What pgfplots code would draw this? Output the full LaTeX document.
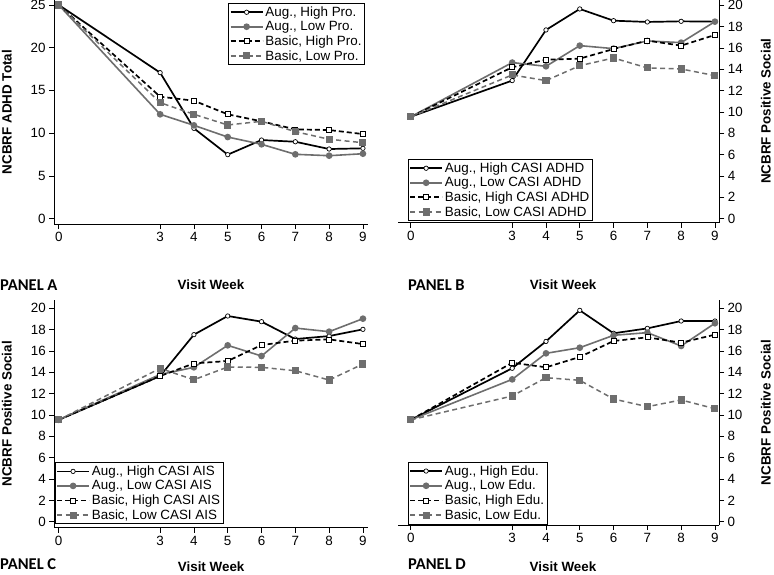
\documentclass[border=0pt]{standalone}
\usepackage{pgfplots}
\pgfplotsset{compat=1.18}
\usepackage{fontspec}
\setmainfont{Liberation Sans}
\newfontfamily\panelfont{Carlito}[Scale=1.0]
\definecolor{grayline}{RGB}{110,110,110}
\newcommand{\lblfont}{\fontsize{13.4}{14}\selectfont\bfseries}
\newcommand{\pnlfont}{\panelfont\fontsize{16.5}{18}\selectfont\bfseries}

\pgfplotsset{
 stata/.style={
  scale only axis, clip=false,
  axis line style={black, line width=0.8pt, -},
  every outer x axis line/.append style={-},
  every outer y axis line/.append style={-},
  every inner x axis line/.append style={-},
  every inner y axis line/.append style={-},
  tick style={black, line width=0.8pt},
  tick align=outside, major tick length=5pt,
  xtick={0,3,4,5,6,7,8,9},
  tick label style={font=\fontsize{13.4}{14}\selectfont},
  /pgf/number format/assume math mode=true,
  legend style={font=\fontsize{13.4}{15}\selectfont, draw=black, line width=0.6pt, fill=white, inner sep=1pt, row sep=-0.5pt, cells={anchor=west}},
  legend cell align=left,
  legend image code/.code={\draw[mark repeat=2,mark phase=2,##1] plot coordinates {(0pt,0pt) (16pt,0pt) (32pt,0pt)};},
 },
 ah/.style={black, solid, line width=1.7pt, mark=*, mark size=2.2pt, mark options={solid, fill=white, line width=0.7pt}},
 al/.style={grayline, solid, line width=1.6pt, mark=*, mark size=2.5pt, mark options={solid, fill=grayline}},
 bh/.style={black, line width=1.7pt, dash pattern=on 5pt off 3pt, mark=square*, mark size=2.5pt, mark options={solid, fill=white, line width=0.7pt}},
 bl/.style={grayline, line width=1.5pt, dash pattern=on 5pt off 3.5pt, mark=square*, mark size=2.8pt, mark options={solid, fill=grayline}},
}

\begin{document}
\begin{tikzpicture}[x=1pt,y=1pt]
\useasboundingbox (0,0) rectangle (774,574);

% PANEL A
\begin{axis}[stata, at={(54pt,350pt)}, anchor=south west, width=314pt, height=224pt,
  xmin=-0.14, xmax=9.15, ymin=-0.62, ymax=25.58,
  axis x line*=bottom, axis y line*=left, ytick={0,5,...,25},
  xlabel={Visit Week}, ylabel={NCBRF ADHD Total},
  every axis x label/.style={at={(axis description cs:0.5,-0.272)},anchor=center,font=\lblfont},
  every axis y label/.style={at={(axis description cs:-0.15,0.5)},rotate=90,anchor=center,font=\lblfont},
  legend style={at={(axis description cs:0.99,0.985)},anchor=north east}]
\addplot[ah] coordinates {(0,25)(3,17.08)(4,10.57)(5,7.49)(6,9.2)(7,9.0)(8,8.15)(9,8.23)};
\addplot[al] coordinates {(0,25)(3,12.21)(4,10.92)(5,9.55)(6,8.7)(7,7.53)(8,7.37)(9,7.6)};
\addplot[bh] coordinates {(0,25)(3,14.27)(4,13.8)(5,12.21)(6,11.39)(7,10.45)(8,10.37)(9,9.9)};
\addplot[bl] coordinates {(0,25)(3,13.57)(4,12.21)(5,10.96)(6,11.39)(7,10.18)(8,9.29)(9,8.89)};
\legend{{Aug., High Pro.},{Aug., Low Pro.},{Basic, High Pro.},{Basic, Low Pro.}}
\end{axis}

% PANEL B
\begin{axis}[stata, at={(398pt,351.3pt)}, anchor=south west, width=321.3pt, height=222.7pt,
  xmin=-0.38, xmax=9.13, ymin=-0.39, ymax=20.5,
  axis x line*=bottom, axis y line*=right, ytick={0,2,...,20},
  xlabel={Visit Week}, ylabel={NCBRF Positive Social},
  every axis x label/.style={at={(axis description cs:0.514,-0.28)},anchor=center,font=\lblfont},
  every axis y label/.style={at={(axis description cs:1.145,0.5)},rotate=90,anchor=center,font=\lblfont},
  legend style={at={(axis description cs:0.031,0.008)},anchor=south west}]
\addplot[ah] coordinates {(0,9.55)(3,12.94)(4,17.69)(5,19.66)(6,18.56)(7,18.44)(8,18.5)(9,18.47)};
\addplot[al] coordinates {(0,9.55)(3,14.63)(4,14.28)(5,16.22)(6,15.94)(7,16.66)(8,16.5)(9,18.47)};
\addplot[bh] coordinates {(0,9.55)(3,14.19)(4,14.9)(5,15.0)(6,15.9)(7,16.69)(8,16.22)(9,17.22)};
\addplot[bl] coordinates {(0,9.55)(3,13.47)(4,12.94)(5,14.34)(6,15.06)(7,14.13)(8,14.03)(9,13.41)};
\legend{{Aug., High CASI ADHD},{Aug., Low CASI ADHD},{Basic, High CASI ADHD},{Basic, Low CASI ADHD}}
\end{axis}

% PANEL C
\begin{axis}[stata, at={(54.3pt,46.3pt)}, anchor=south west, width=313.7pt, height=227.7pt,
  xmin=-0.13, xmax=9.15, ymin=-0.56, ymax=20.78,
  axis x line*=bottom, axis y line*=left, ytick={0,2,...,20},
  xlabel={Visit Week}, ylabel={NCBRF Positive Social},
  every axis x label/.style={at={(axis description cs:0.5,-0.172)},anchor=center,font=\lblfont},
  every axis y label/.style={at={(axis description cs:-0.151,0.5)},rotate=90,anchor=center,font=\lblfont},
  legend style={at={(axis description cs:0.002,0.016)},anchor=south west}]
\addplot[ah] coordinates {(0,9.55)(3,13.65)(4,17.53)(5,19.28)(6,18.75)(7,17.12)(8,17.4)(9,18.03)};
\addplot[al] coordinates {(0,9.55)(3,13.8)(4,14.47)(5,16.53)(6,15.53)(7,18.15)(8,17.81)(9,19.03)};
\addplot[bh] coordinates {(0,9.55)(3,13.65)(4,14.84)(5,15.06)(6,16.56)(7,16.97)(8,17.09)(9,16.65)};
\addplot[bl] coordinates {(0,9.55)(3,14.37)(4,13.31)(5,14.5)(6,14.47)(7,14.15)(8,13.28)(9,14.78)};
\legend{{Aug., High CASI AIS},{Aug., Low CASI AIS},{Basic, High CASI AIS},{Basic, Low CASI AIS}}
\end{axis}

% PANEL D
\begin{axis}[stata, at={(398pt,49pt)}, anchor=south west, width=321pt, height=225pt,
  xmin=-0.38, xmax=9.12, ymin=-0.31, ymax=20.78,
  axis x line*=bottom, axis y line*=right, ytick={0,2,...,20},
  xlabel={Visit Week}, ylabel={NCBRF Positive Social},
  every axis x label/.style={at={(axis description cs:0.514,-0.185)},anchor=center,font=\lblfont},
  every axis y label/.style={at={(axis description cs:1.146,0.5)},rotate=90,anchor=center,font=\lblfont},
  legend style={at={(axis description cs:0.031,0.004)},anchor=south west}]
\addplot[ah] coordinates {(0,9.55)(3,14.38)(4,16.9)(5,19.81)(6,17.66)(7,18.12)(8,18.81)(9,18.81)};
\addplot[al] coordinates {(0,9.55)(3,13.34)(4,15.78)(5,16.31)(6,17.47)(7,17.72)(8,16.47)(9,18.6)};
\addplot[bh] coordinates {(0,9.55)(3,14.9)(4,14.47)(5,15.44)(6,16.94)(7,17.28)(8,16.78)(9,17.53)};
\addplot[bl] coordinates {(0,9.55)(3,11.78)(4,13.5)(5,13.25)(6,11.5)(7,10.78)(8,11.41)(9,10.59)};
\legend{{Aug., High Edu.},{Aug., Low Edu.},{Basic, High Edu.},{Basic, Low Edu.}}
\end{axis}

\node[anchor=west, font=\pnlfont, inner sep=0pt] at (0,289) {PANEL A};
\node[anchor=west, font=\pnlfont, inner sep=0pt] at (408,289) {PANEL B};
\node[anchor=west, font=\pnlfont, inner sep=0pt] at (0,9.5) {PANEL C};
\node[anchor=west, font=\pnlfont, inner sep=0pt] at (408,9.5) {PANEL D};
\end{tikzpicture}
\end{document}
